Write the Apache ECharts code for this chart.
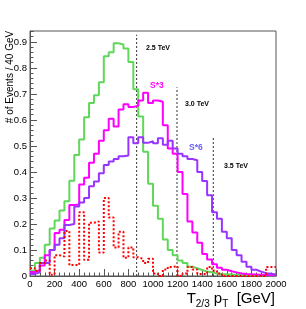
<!DOCTYPE html>
<html><head><meta charset="utf-8">
<script src="https://cdn.jsdelivr.net/npm/echarts@6/dist/echarts.min.js"></script>
<style>html,body{margin:0;padding:0;background:#fff}#c{width:306px;height:309px}</style>
</head><body><div id="c"></div>
<script>
// bin lower edges (GeV), 40 GeV bins
const binLow = [0,40,80,120,160,200,240,280,320,360,400,440,480,520,560,600,640,680,720,760,
  800,840,880,920,960,1000,1040,1080,1120,1160,1200,1240,1280,1320,1360,1400,1440,1480,1520,1560,
  1600,1640,1680,1720,1760,1800,1840,1880,1920,1960];
const xEnd = 2000;
const xTicks = [0,200,400,600,800,1000,1200,1400,1600,1800,2000];

// 2.5 TeV (green)
const green = [0.02,0.05,0.07,0.12,0.183,0.213,0.252,0.287,0.366,0.465,
  0.525,0.61,0.665,0.695,0.745,0.845,0.86,0.895,0.89,0.875,
  0.823,0.718,0.613,0.478,0.355,0.27,0.22,0.14,0.10,0.08,
  0.06,0.05,0.036,0.03,0.023,0.017,0.014,0.01,0.008,0.007,
  0.006,0.005,0.005,0.004,0.004,0.003,0.003,0.003,0.002,0.002];
// 3.0 TeV  x3 (magenta)
const magenta = [0.015,0.022,0.04,0.08,0.10,0.165,0.178,0.215,0.273,0.275,
  0.352,0.378,0.435,0.47,0.52,0.56,0.605,0.575,0.64,0.66,
  0.65,0.655,0.675,0.705,0.665,0.675,0.67,0.58,0.49,0.47,
  0.40,0.315,0.21,0.167,0.128,0.085,0.063,0.045,0.032,0.024,
  0.018,0.014,0.01,0.008,0.007,0.006,0.005,0.004,0.003,0.003];
// 3.5 TeV x6 (purple)
const purple = [0.008,0.014,0.05,0.05,0.10,0.12,0.145,0.196,0.20,0.267,
  0.283,0.30,0.345,0.363,0.395,0.427,0.44,0.45,0.46,0.463,
  0.533,0.51,0.533,0.512,0.518,0.51,0.53,0.505,0.52,0.49,
  0.47,0.46,0.45,0.445,0.40,0.365,0.31,0.245,0.22,0.17,
  0.145,0.10,0.08,0.055,0.036,0.024,0.017,0.011,0.009,0.006];
// background (red dotted)
const red = [0.03,0.02,0.05,0.06,0.005,0.08,0.075,0.173,0.042,0.042,
  0.245,0.062,0.205,0.21,0.09,0.30,0.225,0.11,0.17,0.07,
  0.11,0.072,0.066,0.05,0.066,0.01,0.0,0.025,0.035,0.038,
  0.0,0.01,0.035,0.025,0.008,0.008,0.035,0.02,0.01,0,
  0,0,0,0,0,0,0,0,0.035,0.035];

const massX = [867, 1195, 1490];
const massTop = [0.928, 0.726, 0.538];

const FONT = '"Liberation Sans", Arial, Helvetica, sans-serif';

function steps(vals){
  const d = binLow.map((x,i)=>[x, vals[i]]);
  d.push([xEnd, vals[vals.length-1]]);
  return d;
}
function hist(vals, color, type){
  return {type:'line', step:'end', data:steps(vals), symbol:'none', xAxisIndex:0, yAxisIndex:0,
    lineStyle:{color:color, width:2, type:type||'solid'}, silent:true, animation:false, z:3};
}
const series = [
  hist(green, '#5fd85a'),
  hist(magenta, '#ff00ff'),
  hist(purple, '#9933ff'),
  hist(red, '#ff0000', 'dotted')
];
massX.forEach((x,i)=>{
  series.push({type:'line', data:[[x,0],[x,massTop[i]]], symbol:'none', silent:true, animation:false,
    lineStyle:{color:'#333', width:1, type:[2,2]}, z:2});
});

const chart = echarts.init(document.getElementById('c'), null, {renderer:'canvas'});
chart.setOption({
  animation:false,
  grid:{left:30, top:31, right:30, bottom:33, show:true, borderColor:'#555', borderWidth:1, backgroundColor:'transparent'},
  xAxis:{type:'value', min:xTicks[0], max:xTicks[xTicks.length-1], interval:200,
    axisLine:{show:true, lineStyle:{color:'#555', width:1}},
    axisTick:{show:true, inside:true, length:7, lineStyle:{color:'#555'}},
    minorTick:{show:true, splitNumber:5, length:3.5, lineStyle:{color:'#555'}},
    axisLabel:{fontSize:9.5, color:'#000', margin:3, fontFamily:FONT, hideOverlap:false,
      formatter:function(v){return String(v);}},
    splitLine:{show:false}},
  yAxis:[
    {type:'value', min:0, max:0.942, interval:0.1, position:'left',
     axisLine:{show:true, lineStyle:{color:'#555', width:1}},
     axisTick:{show:true, inside:true, length:7, lineStyle:{color:'#555'}},
     axisLabel:{fontSize:9.5, color:'#000', margin:3, fontFamily:FONT, showMaxLabel:false},
     splitLine:{show:false}},
    {type:'value', min:0, max:0.942, interval:0.02, position:'left',
     axisLine:{show:false}, axisLabel:{show:false},
     axisTick:{show:true, inside:true, length:3.5, lineStyle:{color:'#555'}},
     splitLine:{show:false}}
  ],
  series: series,
  graphic:[
    {type:'text', x:10, y:77, rotation:Math.PI/2, style:{text:'# of Events / 40 GeV', font:'10px '+FONT, fill:'#000', align:'center', verticalAlign:'middle'}},
    {type:'text', x:275, y:291, style:{text:'{a|T}{b|2/3}{a| p}{b|T}{a|  [GeV]}', align:'right', verticalAlign:'top', fill:'#000',
      rich:{a:{fontSize:15, lineHeight:15, verticalAlign:'top', fontFamily:FONT, fill:'#000'},
            b:{fontSize:10, lineHeight:10, padding:[8,0,0,0], verticalAlign:'top', fontFamily:FONT, fill:'#000'}}}},
    {type:'text', x:146, y:48, style:{text:'2.5 TeV', font:'bold 7px '+FONT, fill:'#000', align:'left', verticalAlign:'middle'}},
    {type:'text', x:185, y:104, style:{text:'3.0 TeV', font:'bold 7px '+FONT, fill:'#000', align:'left', verticalAlign:'middle'}},
    {type:'text', x:224, y:166, style:{text:'3.5 TeV', font:'bold 7px '+FONT, fill:'#000', align:'left', verticalAlign:'middle'}},
    {type:'text', x:150, y:86, style:{text:'S*3', font:'bold 8.5px '+FONT, fill:'#ff00ff', align:'left', verticalAlign:'middle'}},
    {type:'text', x:189, y:148, style:{text:'S*6', font:'bold 8.5px '+FONT, fill:'#6a5ff0', align:'left', verticalAlign:'middle'}}
  ]
});
</script>
</body></html>
